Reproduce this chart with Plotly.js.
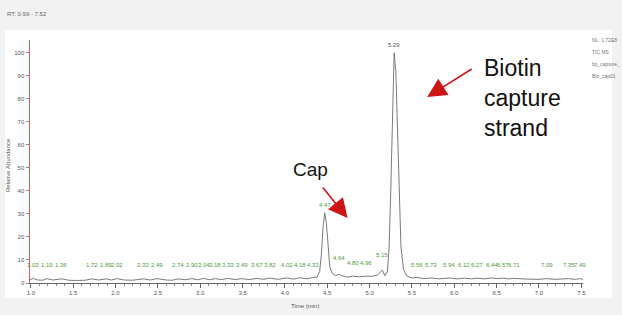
<!DOCTYPE html>
<html>
<head>
<meta charset="utf-8">
<script src="https://cdn.plot.ly/plotly-3.0.1.min.js"></script>
<style>html,body{margin:0;padding:0;background:#f2f2f2;}#chart{width:622px;height:315px;}</style>
</head>
<body>
<div id="chart"></div>
<script>
// Chromatogram trace (time in min, relative abundance %)
const time = [0.99,1.03,1.08,1.14,1.19,1.26,1.36,1.45,1.55,1.64,1.72,1.80,1.89,1.95,2.02,2.10,2.20,2.33,2.41,2.49,2.60,2.67,2.74,2.82,2.90,2.97,3.04,3.11,3.18,3.25,3.33,3.41,3.49,3.58,3.67,3.75,3.82,3.92,4.02,4.10,4.18,4.26,4.33,4.38,4.41,4.43,4.45,4.47,4.49,4.51,4.53,4.56,4.60,4.64,4.70,4.75,4.80,4.88,4.96,5.03,5.09,5.15,5.18,5.21,5.23,5.25,5.27,5.29,5.31,5.33,5.35,5.37,5.40,5.44,5.50,5.56,5.64,5.73,5.82,5.94,6.03,6.12,6.20,6.27,6.35,6.44,6.50,6.57,6.64,6.71,6.85,7.00,7.09,7.20,7.35,7.42,7.49,7.52];
const intensity = [1.4,2.0,1.3,1.2,1.9,1.3,1.8,1.2,1.1,1.2,1.8,1.3,1.8,1.3,1.9,1.3,1.2,1.8,1.3,1.9,1.3,1.2,1.8,1.4,1.9,1.4,2.0,1.4,1.9,1.5,2.0,1.5,1.9,1.5,2.0,1.6,2.1,1.6,2.2,1.7,2.3,1.8,2.4,2.5,5,12,24,30.5,26,15,7,4.2,3.2,3.8,2.8,2.6,3.0,2.7,3.0,2.9,3.4,5.6,3.2,5,15,40,78,100,92,65,35,16,6,3,2.2,2.4,1.9,2.2,1.8,2.2,1.8,2.1,1.8,2.1,1.8,2.2,1.9,2.1,1.8,2.0,1.7,1.6,1.9,1.6,1.9,1.6,1.9,1.5];

// Peak labels (retention times) and their label heights
const peakLabelTimes = [1.03,1.19,1.36,1.72,1.89,2.02,2.33,2.49,2.74,2.90,3.04,3.18,3.33,3.49,3.67,3.82,4.02,4.18,4.33,4.47,4.64,4.80,4.96,5.15,5.29,5.56,5.73,5.94,6.12,6.27,6.44,6.57,6.71,7.09,7.35,7.49];
const peakLabelY = [7.8,7.8,7.8,7.8,7.8,7.8,7.8,7.8,7.8,7.8,7.8,7.8,7.8,7.8,7.8,7.8,7.8,7.8,7.8,34,11,8.7,8.7,12,103.5,7.8,7.8,7.8,7.8,7.8,7.8,7.8,7.8,7.8,7.8,7.8];

const yTicks = [0,10,20,30,40,50,60,70,80,90,100];
const xTicks = [1.0,1.5,2.0,2.5,3.0,3.5,4.0,4.5,5.0,5.5,6.0,6.5,7.0,7.5];

const FONT = 'Liberation Sans, Arial, sans-serif';
// plot area in pixels: x 30..583, y 40..283
const L = 30, R = 39, T = 40, B = 32, W = 622, H = 315;
const pw = W - L - R, ph = H - T - B;
const px = p => (p - L) / pw;
const py = p => (H - B - p) / ph;

const annotations = [];
peakLabelTimes.forEach((t, i) => {
  annotations.push({
    x: t, y: peakLabelY[i], xref: 'x', yref: 'y', text: t.toFixed(2), showarrow: false,
    font: {family: FONT, size: 6, color: t === 5.29 ? '#555555' : '#4f9a45'},
    xanchor: 'center', yanchor: 'middle'
  });
});
// header and side texts
annotations.push({xref: 'paper', yref: 'paper', x: px(5), y: py(14), text: 'RT: 0.99 - 7.52', showarrow: false,
  xanchor: 'left', yanchor: 'middle', font: {family: FONT, size: 6, color: '#666'}});
['NL: 1.72E8', 'TIC MS', 'bp_capture_', 'Bio_cap01'].forEach((s, i) => {
  annotations.push({xref: 'paper', yref: 'paper', x: px(590), y: py(40 + i * 12), text: s, showarrow: false,
    xanchor: 'left', yanchor: 'middle', font: {family: FONT, size: 5, color: '#777'}});
});
// axis titles
annotations.push({xref: 'paper', yref: 'paper', x: px(305), y: py(306), text: 'Time (min)', showarrow: false,
  xanchor: 'center', yanchor: 'middle', font: {family: FONT, size: 6, color: '#555'}});
annotations.push({xref: 'paper', yref: 'paper', x: px(8), y: py(165), text: 'Relative Abundance', showarrow: false,
  textangle: -90, xanchor: 'center', yanchor: 'middle', font: {family: FONT, size: 6, color: '#555'}});
// callouts
annotations.push({xref: 'paper', yref: 'paper', x: px(482), y: py(98), text: 'Biotin<br>capture<br>strand', showarrow: false,
  xanchor: 'left', yanchor: 'middle', align: 'left', font: {family: FONT, size: 23, color: '#111'}});
annotations.push({xref: 'paper', yref: 'paper', x: px(310), y: py(169), text: 'Cap', showarrow: false,
  xanchor: 'center', yanchor: 'middle', font: {family: FONT, size: 19, color: '#111'}});
annotations.push({x: 5.68, y: 80.8, xref: 'x', yref: 'y', text: '', showarrow: true, ax: 46, ay: -29,
  arrowhead: 2, arrowsize: 2.4, arrowwidth: 1.6, arrowcolor: '#cc1414'});
annotations.push({x: 4.74, y: 28.2, xref: 'x', yref: 'y', text: '', showarrow: true, ax: -26, ay: -32,
  arrowhead: 2, arrowsize: 2.4, arrowwidth: 1.6, arrowcolor: '#cc1414'});

const data = [{
  x: time, y: intensity, type: 'scatter', mode: 'lines',
  line: {color: '#7a7a7a', width: 1}, hoverinfo: 'skip'
}];

const layout = {
  width: W, height: H,
  margin: {l: L, r: R, t: T, b: B, pad: 0},
  paper_bgcolor: '#f2f2f2', plot_bgcolor: 'rgba(0,0,0,0)',
  showlegend: false,
  font: {family: FONT, size: 6, color: '#555'},
  shapes: [{type: 'rect', xref: 'paper', yref: 'paper', x0: px(5), x1: px(612), y0: py(298), y1: py(30),
    fillcolor: '#ffffff', line: {width: 0}, layer: 'below'}],
  xaxis: {
    range: [0.99, 7.52], tickvals: xTicks, ticktext: xTicks.map(v => v.toFixed(1)),
    showgrid: false, zeroline: false, showline: true, linecolor: '#666', linewidth: 1,
    ticks: 'outside', ticklen: 4, tickcolor: '#666',
    minor: {dtick: 0.1, tick0: 1.0, ticks: 'outside', ticklen: 2, tickcolor: '#888'},
    tickfont: {family: FONT, size: 6, color: '#555'}
  },
  yaxis: {
    range: [0, 105.6], tickvals: yTicks, ticktext: yTicks.map(String),
    showgrid: false, zeroline: false, showline: true, linecolor: '#e05a5a', linewidth: 1.5,
    ticks: 'outside', ticklen: 3, tickcolor: '#888',
    tickfont: {family: FONT, size: 6, color: '#555'}
  },
  annotations: annotations
};

Plotly.newPlot('chart', data, layout, {displayModeBar: false, staticPlot: true});
</script>
</body>
</html>
